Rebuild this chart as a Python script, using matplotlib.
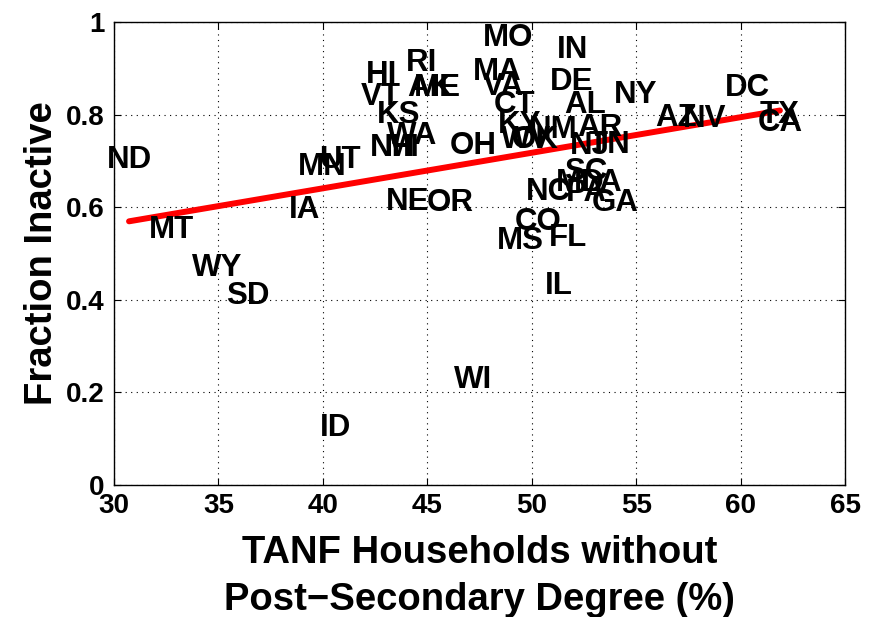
import numpy as np
import matplotlib
matplotlib.use("Agg")
import matplotlib.pyplot as plt

plt.rcParams["font.family"] = ["Liberation Sans", "DejaVu Sans"]
plt.rcParams["font.weight"] = "bold"

# state, % TANF households without post-secondary degree, fraction inactive
states = ["MO", "IN", "RI", "HI", "MA", "DE", "NY", "VT", "VA", "AK",
          "ME", "CT", "AL", "KS", "KY", "AZ", "NV", "DC", "TX", "CA",
          "WA", "NH", "MI", "OH", "WV", "OK", "NM", "AR", "NJ", "TN",
          "UT", "MN", "ND", "IA", "MT", "WY", "SD", "NE", "OR", "SC",
          "MD", "LA", "PA", "NC", "GA", "CO", "MS", "FL", "IL", "WI", "ID"]
no_degree = [48.86, 51.97, 44.74, 42.83, 48.33, 51.92, 54.99, 42.78, 48.62, 45.13,
             45.46, 49.20, 52.55, 43.64, 49.44, 56.90, 58.29, 60.35, 61.88, 61.88,
             44.27, 43.31, 43.79, 47.19, 49.72, 50.15, 51.01, 53.26, 52.79, 53.74,
             40.82, 39.96, 30.72, 39.10, 32.73, 34.93, 36.41, 44.07, 46.08, 52.59,
             52.31, 53.36, 52.64, 50.78, 53.98, 50.30, 49.44, 51.73, 51.30, 47.19, 40.63]
inactive = [0.965, 0.940, 0.911, 0.886, 0.892, 0.870, 0.842, 0.838, 0.860, 0.857,
            0.857, 0.821, 0.821, 0.799, 0.778, 0.793, 0.790, 0.857, 0.799, 0.782,
            0.754, 0.728, 0.728, 0.732, 0.745, 0.745, 0.767, 0.771, 0.732, 0.734,
            0.702, 0.686, 0.702, 0.594, 0.551, 0.469, 0.408, 0.611, 0.609, 0.676,
            0.652, 0.652, 0.631, 0.633, 0.609, 0.568, 0.527, 0.533, 0.430, 0.227, 0.123]

# least-squares fit (slope, intercept)
fit_coef = [0.00768, 0.3335]

x = np.array(no_degree)
y = np.array(inactive)

fig = plt.figure(figsize=(8.81, 6.17), dpi=100)
ax = fig.add_axes([0.1294, 0.214, 0.8298, 0.7504])

for s, xi, yi in zip(states, x, y):
    ax.text(xi, yi, s, ha="center", va="center", fontsize=22.5,
            fontweight="bold", color="black")

xf = np.array([x.min(), x.max()])
ax.plot(xf, np.polyval(fit_coef, xf), color="red", linewidth=4.3,
        solid_capstyle="round")

ax.set_xlim(30, 65)
ax.set_ylim(0, 1)
ax.set_xticks(np.arange(30, 66, 5))
ax.set_yticks([0, 0.2, 0.4, 0.6, 0.8, 1])
ax.set_yticklabels(["0", "0.2", "0.4", "0.6", "0.8", "1"])
ax.tick_params(direction="in", length=5, labelsize=20, top=True, right=True,
               pad=7)
ax.tick_params(axis="x", pad=6)
for lab in ax.get_xticklabels() + ax.get_yticklabels():
    lab.set_fontweight("bold")
ax.grid(True, color="black", linestyle=(0, (1, 4)), linewidth=0.8)
for sp in ax.spines.values():
    sp.set_linewidth(1.0)

ax.set_xlabel("TANF Households without\nPost\u2212Secondary Degree (%)",
              fontsize=27.5, fontweight="bold", labelpad=11, linespacing=1.4)
ax.set_ylabel("Fraction Inactive", fontsize=27.5, fontweight="bold", labelpad=4)

fig.savefig("out.png", dpi=100)
